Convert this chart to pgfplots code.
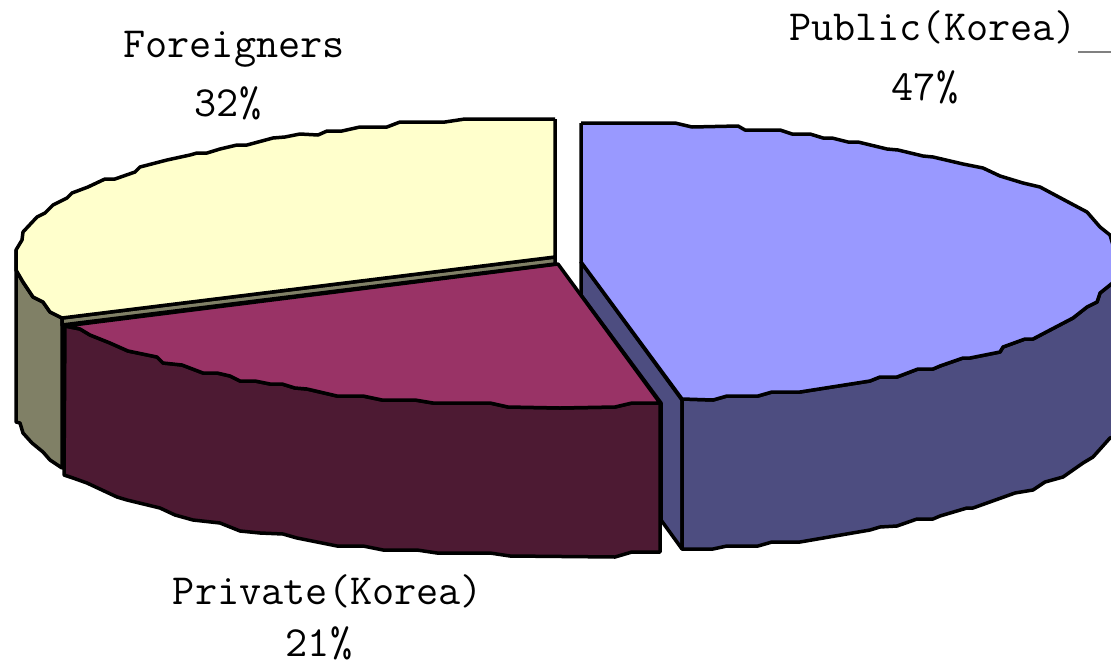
\documentclass[border=0pt]{standalone}
\usepackage{fontspec}
\usepackage{pgfplots}
\pgfplotsset{compat=1.18}
\definecolor{bluetop}{HTML}{9999FF}
\definecolor{blueside}{HTML}{4D4D80}
\definecolor{privtop}{HTML}{993366}
\definecolor{privside}{HTML}{4D1A33}
\definecolor{yeltop}{HTML}{FFFFCC}
\definecolor{yelside}{HTML}{808066}
\tikzset{lab/.style={anchor=base, font=\fontsize{43}{50}\selectfont\ttfamily, text=black, inner sep=0pt}}
\begin{document}
\begin{tikzpicture}
\useasboundingbox (0,0) rectangle (1111pt,667pt);
\begin{axis}[
  at={(0,0)}, anchor=south west,
  scale only axis, width=1111pt, height=667pt,
  xmin=0, xmax=1111, ymin=0, ymax=667, y dir=reverse,
  hide axis,
  every axis plot/.append style={draw=black, line width=3.5pt, line join=round, mark=none},
]
% Foreigners: outer wall
\addplot[fill=yelside] coordinates {(16,250)(16,270)(23,282)(33,297)(43,302)(50,312)(62,318)(62,468)(50,460)(43,452)(32,443)(23,433)(20,423)(16,422)(16,250)};
% Public: inner wall
\addplot[fill=blueside] coordinates {(581,262)(682,400)(682,549)(661,520)(661,403)(581,295)(581,262)};
% Private: outer wall
\addplot[fill=privside] coordinates {(65,326)(80,329)(90,335)(110,343)(128,351)(157,357)(163,363)(182,365)(203,373)(217,373)(230,376)(240,381)(255,381)(270,384)(282,384)(295,388)(307,389)(337,396)(363,396)(382,400)(415,400)(433,403)(490,403)(508,407)(560,408)(615,407)(632,403)(660,403)(660,552)(632,552)(615,557)(510,556)(490,553)(437,553)(417,550)(383,550)(363,546)(337,546)(297,538)(283,534)(260,533)(240,531)(220,523)(193,520)(175,515)(160,508)(127,500)(117,497)(87,483)(73,478)(64,475)(65,326)};
% Private: top
\addplot[fill=privtop] coordinates {(65,326)(558,264)(660,403)(632,403)(615,407)(560,408)(508,407)(490,403)(433,403)(415,400)(382,400)(363,396)(337,396)(307,389)(295,388)(282,384)(270,384)(255,381)(240,381)(230,376)(217,373)(203,373)(182,365)(163,363)(157,357)(128,351)(110,343)(90,335)(80,329)(65,326)};
% Foreigners: inner wall sliver
\addplot[fill=yelside] coordinates {(62,318)(555,257)(555,264)(62,325)(62,318)};
% Foreigners: top
\addplot[fill=yeltop] coordinates {(555,119)(465,119)(445,122)(400,122)(387,127)(360,127)(342,131)(327,131)(318,135)(300,134)(285,137)(273,138)(247,145)(237,145)(220,149)(207,153)(197,153)(190,155)(167,160)(140,167)(135,172)(115,179)(105,179)(88,187)(72,193)(67,198)(53,205)(45,213)(37,217)(23,232)(22,240)(16,250)(16,270)(23,282)(33,297)(43,302)(50,312)(62,318)(555,257)(555,119)};
% Public: outer wall
\addplot[fill=blueside] coordinates {(682,399)(713,400)(727,396)(758,396)(772,392)(800,392)(870,381)(880,377)(897,377)(918,369)(933,369)(940,366)(963,358)(970,358)(1000,352)(1003,347)(1025,339)(1033,339)(1052,329)(1073,318)(1087,307)(1097,302)(1100,293)(1110,285)(1116,280)(1116,436)(1110,438)(1093,457)(1083,463)(1063,477)(1045,482)(1033,490)(1015,493)(987,503)(973,508)(967,508)(940,516)(933,519)(917,519)(897,526)(880,527)(870,530)(800,542)(772,542)(758,546)(727,546)(713,549)(682,549)(682,399)};
% Public: top
\addplot[fill=bluetop] coordinates {(581,123)(675,123)(692,127)(738,126)(745,130)(780,130)(792,134)(810,134)(823,138)(832,138)(848,142)(858,142)(887,149)(898,150)(923,156)(933,157)(963,164)(983,168)(1000,176)(1023,183)(1040,187)(1070,203)(1087,212)(1100,227)(1110,235)(1118,262)(1116,280)(1110,285)(1100,293)(1097,302)(1087,307)(1073,318)(1052,329)(1033,339)(1025,339)(1003,347)(1000,352)(970,358)(963,358)(940,366)(933,369)(918,369)(897,377)(880,377)(870,381)(800,392)(772,392)(758,396)(727,396)(713,400)(682,399)(581,262)(581,123)};
% leader line
\addplot[draw=gray, line width=2pt] coordinates {(1078,52)(1111,52)};
\node[lab] at (axis cs:234,57) {Foreigners};
\node[lab] at (axis cs:228,116) {32\%};
\node[lab] at (axis cs:933,40) {Public(Korea)};
\node[lab] at (axis cs:925,100) {47\%};
\node[lab] at (axis cs:328,604) {Private(Korea)};
\node[lab] at (axis cs:319,656) {21\%};
\end{axis}
\end{tikzpicture}
\end{document}
